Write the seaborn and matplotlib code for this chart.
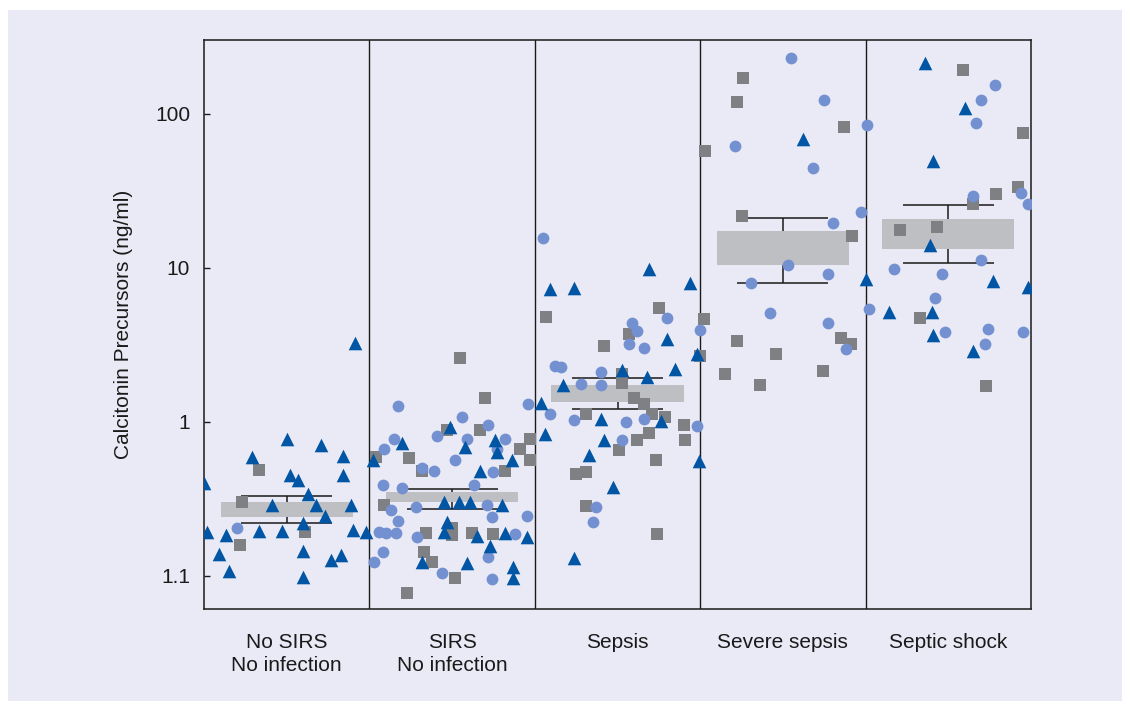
import numpy as np
import pandas as pd
import matplotlib
matplotlib.use('Agg')
import matplotlib.pyplot as plt
from matplotlib.patches import Rectangle
import seaborn as sns

# ---- data (ng/ml; offsets = jitter inside each group) ----
categories = ["No SIRS\nNo infection", "SIRS\nNo infection", "Sepsis",
              "Severe sepsis", "Septic shock"]

tri_off = [
    [0.41, 0.00, 0.21, -0.21, 0.34, 0.02, 0.07, 0.34, -0.50, 0.13, -0.09, 0.18, 0.39, 0.23,
     0.10, -0.48, -0.37, -0.17, -0.03, 0.40, 0.48, -0.41, 0.10, 0.27, 0.33, -0.35, 0.10],
    [-0.01, -0.30, 0.26, 0.08, 0.27, 0.36, 0.17, -0.48, -0.05, 0.04, 0.11, 0.30, -0.03, -0.05,
     0.15, 0.32, 0.45, 0.23, -0.18, 0.09, 0.37, 0.37],
    [0.19, -0.41, -0.26, 0.44, 0.30, 0.35, -0.33, 0.03, 0.18, -0.46, -0.10, 0.26, -0.44, -0.08,
     -0.17, -0.03, 0.49, -0.26, 0.48],
    [0.12],
    [-0.14, 0.10, -0.09, -0.11, -0.50, 0.27, 0.48, -0.36, -0.10, -0.09, 0.15],
]
tri_val = [
    [3.27, 0.77, 0.71, 0.59, 0.60, 0.45, 0.42, 0.45, 0.40, 0.34, 0.29, 0.29, 0.29, 0.245,
     0.22, 0.194, 0.185, 0.196, 0.196, 0.199, 0.194, 0.138, 0.146, 0.126, 0.137, 0.107, 0.099],
    [0.93, 0.73, 0.76, 0.69, 0.64, 0.57, 0.48, 0.57, 0.30, 0.30, 0.30, 0.29, 0.225, 0.194,
     0.183, 0.19, 0.179, 0.157, 0.124, 0.122, 0.115, 0.097],
    [9.8, 7.3, 7.4, 8.0, 3.46, 2.21, 1.73, 2.18, 1.97, 1.33, 1.05, 1.02, 0.84, 0.76,
     0.61, 0.38, 0.56, 0.131, 2.77],
    [69.1],
    [213, 109, 49.5, 14.0, 8.45, 8.23, 7.5, 5.2, 5.2, 3.67, 2.90],
]

circ_off = [
    [-0.30],
    [-0.33, 0.46, 0.06, 0.22, -0.35, -0.09, 0.09, 0.32, -0.41, 0.27, 0.02, -0.18, -0.11, 0.25,
     -0.42, -0.30, 0.13, -0.37, -0.22, 0.21, -0.33, 0.24, 0.45, -0.44, -0.40, -0.34, -0.21,
     0.38, -0.42, -0.47, 0.22, -0.06, 0.24],
    [-0.45, 0.09, 0.12, 0.30, 0.07, 0.16, 0.50, -0.38, -0.34, -0.10, -0.22, -0.10, -0.41,
     -0.26, 0.05, 0.16, 0.03, 0.48, -0.13, -0.15],
    [0.05, 0.25, -0.29, 0.18, 0.47, 0.30, 0.03, 0.27, -0.19, -0.08, 0.27, 0.38],
    [0.28, 0.20, -0.49, 0.17, 0.15, 0.44, 0.48, 0.20, -0.33, -0.04, -0.08, -0.48, -0.02,
     0.24, 0.22, 0.45],
]
circ_val = [
    [0.204],
    [1.27, 1.31, 1.08, 0.96, 0.78, 0.81, 0.78, 0.78, 0.67, 0.67, 0.57, 0.50, 0.48, 0.47,
     0.39, 0.37, 0.39, 0.27, 0.28, 0.29, 0.229, 0.24, 0.245, 0.193, 0.19, 0.19, 0.179,
     0.188, 0.144, 0.124, 0.133, 0.104, 0.095],
    [15.7, 4.4, 3.9, 4.7, 3.2, 3.0, 3.96, 2.3, 2.29, 2.12, 1.77, 1.75, 1.13, 1.03, 1.0,
     1.04, 0.76, 0.94, 0.28, 0.225],
    [232, 123, 61.7, 44.8, 23.0, 19.7, 10.5, 9.1, 8.0, 5.08, 4.4, 2.97],
    [153, 123, 85.3, 87.8, 29.5, 30.8, 26.2, 11.3, 9.9, 9.2, 6.4, 5.42, 3.84, 4.04, 3.22, 3.82],
]

sq_off = [
    [-0.17, -0.27, 0.11, -0.28],
    [0.05, 0.20, -0.03, 0.17, 0.47, 0.41, -0.46, -0.26, 0.47, -0.18, 0.32, -0.41, -0.16,
     0.00, 0.00, 0.12, 0.25, -0.17, -0.12, 0.02, -0.27],
    [-0.43, 0.25, 0.07, -0.08, 0.03, 0.03, 0.50, 0.10, 0.16, 0.21, 0.29, -0.19, 0.40, 0.19,
     0.12, 0.41, 0.01, 0.23, -0.25, -0.19, -0.19, 0.24],
    [-0.24, -0.28, 0.37, -0.47, -0.25, 0.42, -0.48, -0.28, -0.04, 0.35, 0.41, -0.35, -0.14, 0.24],
    [0.09, 0.45, 0.29, 0.42, 0.15, -0.29, -0.07, -0.17, 0.23],
]
sq_val = [
    [0.49, 0.30, 0.194, 0.160],
    [2.6, 1.44, 0.88, 0.88, 0.78, 0.67, 0.59, 0.58, 0.57, 0.48, 0.48, 0.29, 0.19,
     0.204, 0.185, 0.19, 0.188, 0.144, 0.124, 0.097, 0.078],
    [4.83, 5.52, 3.74, 3.13, 2.04, 1.80, 2.68, 1.42, 1.30, 1.13, 1.07, 1.13, 0.95, 0.85,
     0.76, 0.76, 0.66, 0.57, 0.46, 0.47, 0.286, 0.188],
    [172, 120, 82.4, 57.8, 21.8, 16.1, 4.67, 3.36, 2.78, 3.53, 3.22, 2.06, 1.74, 2.14],
    [193, 75.6, 30.4, 33.7, 26.0, 17.6, 18.5, 4.76, 1.70],
]

# grey boxes and whiskers per group
box_lo = [0.243, 0.30, 1.35, 10.5, 13.3]
box_hi = [0.303, 0.351, 1.74, 17.4, 20.8]
whisk_lo = [0.222, 0.274, 1.21, 8.0, 10.7]
whisk_hi = [0.33, 0.367, 1.94, 21.2, 25.5]

ytick_vals = [0.1, 1, 10, 100]
ytick_labels = ["1.1", "1", "10", "100"]

# ---- build a long table ----
rows = []
for kind, offs, vals in [("triangle", tri_off, tri_val),
                         ("circle", circ_off, circ_val),
                         ("square", sq_off, sq_val)]:
    for i, (ol, vl) in enumerate(zip(offs, vals)):
        for o, v in zip(ol, vl):
            rows.append({"x": i + o, "value": v, "kind": kind})
df = pd.DataFrame(rows)

# ---- styling ----
BG = '#EAEAF6'
sns.set_theme(style='white')
plt.rcParams['font.family'] = ['Liberation Sans', 'DejaVu Sans']

fig = plt.figure(figsize=(11.22, 7.01), dpi=100)
fig.patch.set_facecolor('white')
fig.add_artist(Rectangle((8 / 1122, 0), 1 - 8 / 1122, 1 - 10 / 701,
                         transform=fig.transFigure, facecolor=BG, edgecolor='none', zorder=0))

ax = fig.add_axes([204 / 1122, 1 - 609 / 701, 827 / 1122, 569 / 701])
ax.set_facecolor(BG)
ax.set_yscale('log')

pos = np.arange(len(categories))

# whiskers (behind the box), box, caps
ax.vlines(pos, whisk_lo, whisk_hi, color='#1a1a1a', lw=1.1, zorder=1.5)
ax.bar(pos, np.array(box_hi) - np.array(box_lo), bottom=box_lo, width=0.8,
       color='#BEBFC3', edgecolor='none', zorder=2)
ax.hlines(whisk_hi, pos - 0.275, pos + 0.275, color='#1a1a1a', lw=1.1, zorder=2.5)
ax.hlines(whisk_lo, pos - 0.275, pos + 0.275, color='#1a1a1a', lw=1.1, zorder=2.5)

# scatter points
styles = {
    "square":   dict(marker='s', color='#7F8083', s=78),
    "circle":   dict(marker='o', color='#7390D0', s=72),
    "triangle": dict(marker='^', color='#0055A4', s=96),
}
for kind in ["square", "circle", "triangle"]:
    sns.scatterplot(data=df[df.kind == kind], x='x', y='value', ax=ax,
                    linewidth=0, zorder=3, legend=False, **styles[kind])

# group separators
for b in pos[:-1] + 0.5:
    ax.axvline(b, color='#1a1a1a', lw=1.0, zorder=1)

ax.set_xlim(-0.5, len(categories) - 0.5)
ax.set_ylim(0.061, 302)
ax.set_xticks(pos)
ax.set_xticklabels(categories, fontsize=15, linespacing=1.3)
ax.set_yticks(ytick_vals)
ax.set_yticklabels(ytick_labels, fontsize=15)
ax.yaxis.set_minor_locator(matplotlib.ticker.NullLocator())
ax.tick_params(axis='x', length=0, pad=17, colors='#1a1a1a')
ax.tick_params(axis='y', direction='in', length=4, width=1, pad=10, colors='#1a1a1a',
               left=True, right=False)
ax.set_xlabel('')
ax.set_ylabel('Calcitonin Precursors (ng/ml)', fontsize=15, color='#1a1a1a')
ax.yaxis.set_label_coords(-0.086, 0.5)

for sp in ax.spines.values():
    sp.set_color('#1a1a1a')
    sp.set_linewidth(1.1)

fig.savefig('out.png', dpi=100, facecolor=fig.get_facecolor())
